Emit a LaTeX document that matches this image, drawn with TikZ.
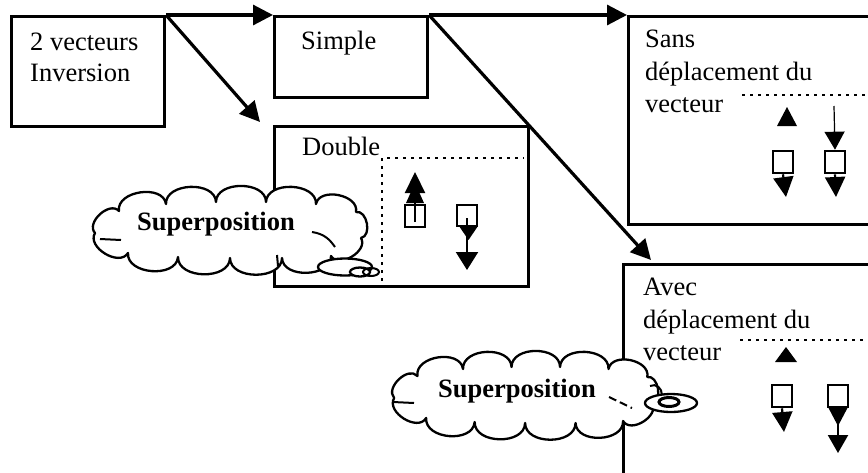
\documentclass[tikz,border=0pt]{standalone}
\usepackage{fontspec}
\setmainfont{Liberation Serif}
\usetikzlibrary{arrows.meta}
\newcommand\mycloudpath{(95,233) to (119,211) to (166,204)
  to (216,202) to (266,202) to (316,204)
  to (356,212) to (361,238) to (331,256)
  to (282,258) to (230,258) to (178,257)
  to (128,253) to cycle}
\begin{document}
\begin{tikzpicture}[x=1pt,y=-1pt,
  box/.style={draw, line width=3pt, anchor=north west, inner sep=0pt},
  sbox/.style={draw, line width=2.6pt, minimum width=20pt, minimum height=22pt, inner sep=0pt},
  arr/.style={line width=3.2pt, -{Triangle[length=20pt,width=20pt]}},
  sarr/.style={line width=2.2pt, -{Triangle[length=20pt,width=20pt]}},
  dashline/.style={line width=1.5pt, dash pattern=on 3pt off 5pt},
  lbl/.style={anchor=base west, inner sep=0pt, font=\fontsize{26.5}{32}\selectfont},
  blbl/.style={anchor=base, inner sep=0pt, font=\fontsize{26.5}{32}\selectfont\bfseries},
  cloudline/.style={draw, fill=white, line width=2.3pt, line join=round, every to/.style={bend left=90, looseness=1.1}},
  bub/.style={draw, fill=white, line width=2.3pt}]
\clip (0,0) rectangle (868,472);
\fill[white] (0,0) rectangle (868,472);

% boxes
\node[box, minimum width=153pt, minimum height=110pt] (inv) at (10,15) {};
\node[box, minimum width=153pt, minimum height=81pt] (simple) at (273,15) {};
\node[box, minimum width=254pt, minimum height=160pt] (double) at (273,125) {};
\node[box, minimum width=260pt, minimum height=208pt] (sans) at (627,15) {};
\node[box, minimum width=270pt, minimum height=230pt] (avec) at (622,263) {};

% texts
\node[lbl] (t1) at (30,50) {2 vecteurs};
\node[lbl] (t2) at (30,81) {Inversion};
\node[lbl] (t3) at (301,49) {Simple};
\node[lbl] (t4) at (302,155) {Double};
\node[lbl] (t5) at (645,47) {Sans};
\node[lbl] (t6) at (645,80) {déplacement du};
\node[lbl] (t7) at (645,112) {vecteur};
\node[lbl] (t8) at (643,295) {Avec};
\node[lbl] (t9) at (643,328) {déplacement du};
\node[lbl] (t10) at (643,360) {vecteur};

% connectors
\coordinate (dtip) at (260,122);
\coordinate (atip) at (651,260);
\draw[arr] (inv.north east) -- (simple.north west);
\draw[arr] (inv.north east) -- (dtip);
\draw[arr] (simple.north east) -- (sans.north west);
\draw[arr] (simple.north east) -- (atip);

% Double contents
\draw[dashline] (387,158) -- (524,158);
\draw[dashline] (382,158) -- (382,285);
\node[sbox] (d1) at (415,216) {};
\draw[sarr, -{Triangle[length=21pt,width=20pt]}] (415,222) -- (415,172);
\fill (415,183) -- (424,203) -- (406,203) -- cycle;
\node[sbox, minimum height=21pt] (d2) at (467,215.5) {};
\fill (459,226) -- (478,226) -- (468.5,240) -- cycle;
\draw[sarr, -{Triangle[length=18pt,width=22pt]}] (467,218) -- (467,270);

% Sans contents
\draw[dashline] (742,95) -- (868,95);
\fill (787,107) -- (797,126) -- (777,126) -- cycle;
\node[sbox] (s1) at (783,162) {};
\draw[sarr] (s1.south) -- (786,197);
\node[sbox] (s2) at (835,162) {};
\draw[line width=1.2pt, -{Triangle[length=18pt,width=20pt]}] (834,106) -- (s2.north);
\draw[sarr] (s2.south) -- (836,197);

% Avec contents
\draw[dashline] (740,340) -- (868,340);
\fill (786,347) -- (797,362) -- (775,362) -- cycle;
\node[sbox] (a1) at (782,396) {};
\draw[sarr] (a1.south) -- (784,432);
\node[sbox] (a2) at (838,396) {};
\fill (828,407) -- (848,407) -- (838,426) -- cycle;
\draw[sarr, -{Triangle[length=18pt,width=20pt]}] (a2.south) -- (838,453);

% cloud 1
\path[cloudline] \mycloudpath;
\draw[line width=2pt] (100,239) -- (121,240);
\draw[line width=2pt] (312,232) .. controls (325,234) and (330,240) .. (335,247);
\draw[line width=2pt] (277,255) -- (278,266);
\node[blbl] (sp1) at (216,230) {Superposition};
\draw[bub] (345,267) ellipse [x radius=27pt, y radius=8.5pt];
\draw[bub] (360,272) ellipse [x radius=10pt, y radius=4.5pt];
\draw[line width=2pt] (371,272) ellipse [x radius=8pt, y radius=4pt];

% cloud 2
\begin{scope}[shift={(302,165)}, xscale=0.97]
\path[cloudline] \mycloudpath;
\end{scope}
\draw[line width=2pt] (393,402) -- (414,403);
\draw[line width=2pt, dash pattern=on 8pt off 4pt] (609,397) -- (632,408);
\draw[line width=2pt] (650,386) .. controls (656,383) and (662,388) .. (662,395);
\node[blbl] (sp2) at (517,397) {Superposition};
\draw[bub] (671,403) ellipse [x radius=26pt, y radius=9pt];
\draw[line width=3pt] (669,402) ellipse [x radius=10pt, y radius=4.5pt];
\end{tikzpicture}
\end{document}
